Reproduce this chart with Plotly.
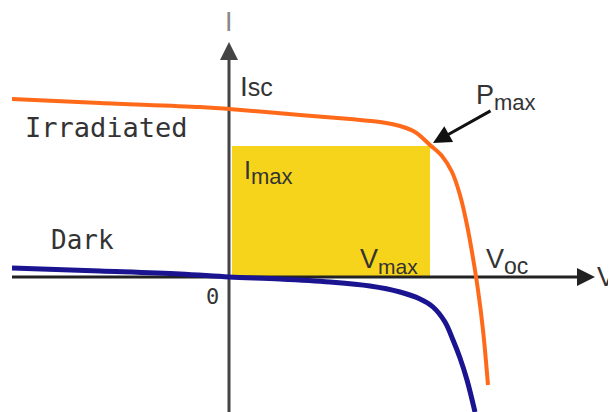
import plotly.graph_objects as go

# I-V curves of a solar cell (arbitrary units, origin at the axis crossing)
irr_v = [-2.17, -1.29, -0.29, 0.0, 0.71, 1.21, 1.51, 1.71, 1.86, 2.01, 2.13, 2.23, 2.31, 2.38, 2.44, 2.49, 2.54, 2.59]
irr_i = [1.78, 1.74, 1.70, 1.68, 1.62, 1.58, 1.55, 1.51, 1.45, 1.32, 1.21, 1.05, 0.82, 0.52, 0.19, -0.13, -0.53, -1.08]

dark_v = [-2.17, -1.29, -0.49, 0.0, 0.51, 1.01, 1.41, 1.71, 1.91, 2.04, 2.16, 2.24, 2.31, 2.38, 2.46]
dark_i = [0.09, 0.06, 0.03, 0.0, -0.02, -0.05, -0.09, -0.15, -0.22, -0.30, -0.45, -0.63, -0.81, -1.03, -1.35]

# punkt for maximal effekt
v_max = 2.01
i_max = 1.31

fig = go.Figure()

fig.add_trace(go.Scatter(x=irr_v, y=irr_i, mode="lines",
                         line=dict(color="#FF6A1A", width=4, shape="spline"),
                         showlegend=False, hoverinfo="skip"))
fig.add_trace(go.Scatter(x=dark_v, y=dark_i, mode="lines",
                         line=dict(color="#1B1490", width=5, shape="spline"),
                         showlegend=False, hoverinfo="skip"))

# gul rektangel + axlar
fig.add_shape(type="rect", x0=0.03, x1=v_max, y0=0, y1=i_max,
              fillcolor="#F7D41C", line=dict(width=0), layer="below")
fig.add_shape(type="line", x0=-2.17, x1=3.54, y0=0, y1=0,
              line=dict(color="#222", width=3), layer="below")
fig.add_shape(type="line", x0=0, x1=0, y0=-1.45, y1=2.25,
              line=dict(color="#444", width=3), layer="below")

# pilspetsar
fig.add_annotation(x=3.66, y=0, ax=-16, ay=0, text="", showarrow=True,
                   arrowhead=2, arrowsize=1.2, arrowwidth=3, arrowcolor="#222")
fig.add_annotation(x=0, y=2.35, ax=0, ay=16, text="", showarrow=True,
                   arrowhead=2, arrowsize=1.2, arrowwidth=3, arrowcolor="#444")

# Pmax-pil
fig.add_annotation(x=2.04, y=1.34, ax=2.63, ay=1.67, axref="x", ayref="y",
                   text="", showarrow=True, arrowhead=2, arrowsize=1.2,
                   arrowwidth=3, arrowcolor="#111")

mono = dict(family="DejaVu Sans Mono", color="#333")
sans = dict(family="Liberation Sans", color="#333")


def sub(base, s, size=22):
    return f"{base}<sub><span style='font-size:{size}px'>{s}</span></sub>"


labels = [
    (0.0, 2.55, "I", dict(sans, size=27, color="#888"), "center"),
    (0.09, 1.91, "I<span style='font-size:25px'>sc</span>", dict(sans, size=28), "left"),
    (-2.06, 1.50, "Irradiated", dict(mono, size=27), "left"),
    (2.45, 1.80, sub("P", "max", 22), dict(sans, size=27), "left"),
    (0.13, 1.05, sub("I", "max", 22), dict(sans, size=25), "left"),
    (-1.80, 0.37, "Dark", dict(mono, size=26), "left"),
    (1.29, 0.16, sub("V", "max", 21), dict(sans, size=27), "left"),
    (2.55, 0.16, sub("V", "oc", 23), dict(sans, size=27), "left"),
    (-0.17, -0.19, "0", dict(mono, size=22), "center"),
    (3.66, 0.0, "V", dict(sans, size=27), "left"),
]
for x, y, txt, f, anchor in labels:
    fig.add_annotation(x=x, y=y, text=txt, showarrow=False, font=f,
                       xanchor=anchor, yanchor="middle")

# sidan har 8 px marginal i body, därför förskjuts intervallen
fig.update_xaxes(range=[-2.21, 3.95], visible=False)
fig.update_yaxes(range=[-1.43, 2.69], visible=False)
fig.update_layout(width=616, height=412, margin=dict(l=0, r=0, t=0, b=0),
                  plot_bgcolor="white", paper_bgcolor="white")

fig.write_html("out.html")
